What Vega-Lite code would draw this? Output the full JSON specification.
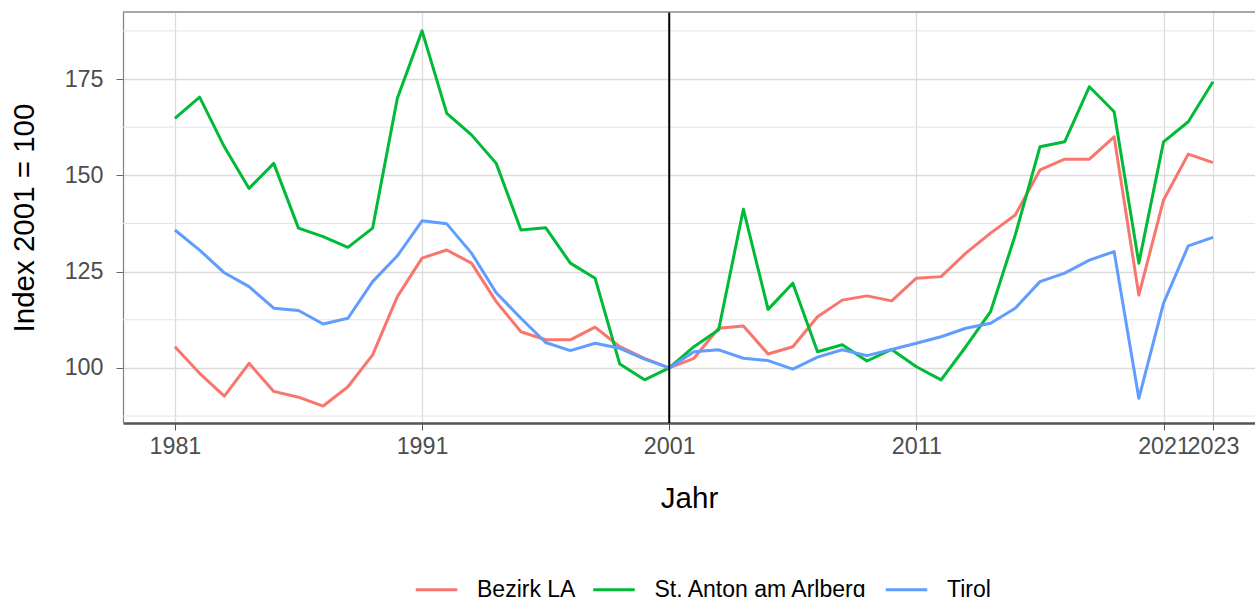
{
  "$schema": "https://vega.github.io/schema/vega-lite/v6.json",
  "width": 1132,
  "height": 411,
  "autosize": {"type": "none"},
  "padding": {"left": 123, "top": 12, "right": 0, "bottom": 174},
  "background": "white",
  "config": {
    "view": {"stroke": null},
    "font": "Liberation Sans",
    "legend": {
      "orient": "none",
      "legendX": 291,
      "legendY": 555,
      "direction": "horizontal",
      "symbolType": "stroke",
      "symbolSize": 1722,
      "symbolStrokeWidth": 3.2,
      "labelFontSize": 23,
      "labelColor": "#000000",
      "labelLimit": 0,
      "labelOffset": 18,
      "columnPadding": 10.5,
      "padding": 0,
      "titlePadding": 0
    }
  },
  "datasets": {
    "lines": [
      {"Jahr": 1981, "Region": "Bezirk LA", "Index": 105.5},
      {"Jahr": 1982, "Region": "Bezirk LA", "Index": 98.6},
      {"Jahr": 1983, "Region": "Bezirk LA", "Index": 92.7},
      {"Jahr": 1984, "Region": "Bezirk LA", "Index": 101.2},
      {"Jahr": 1985, "Region": "Bezirk LA", "Index": 93.9},
      {"Jahr": 1986, "Region": "Bezirk LA", "Index": 92.4},
      {"Jahr": 1987, "Region": "Bezirk LA", "Index": 90.1},
      {"Jahr": 1988, "Region": "Bezirk LA", "Index": 95.1},
      {"Jahr": 1989, "Region": "Bezirk LA", "Index": 103.4},
      {"Jahr": 1990, "Region": "Bezirk LA", "Index": 118.5},
      {"Jahr": 1991, "Region": "Bezirk LA", "Index": 128.5},
      {"Jahr": 1992, "Region": "Bezirk LA", "Index": 130.6},
      {"Jahr": 1993, "Region": "Bezirk LA", "Index": 127.2},
      {"Jahr": 1994, "Region": "Bezirk LA", "Index": 117.2},
      {"Jahr": 1995, "Region": "Bezirk LA", "Index": 109.4},
      {"Jahr": 1996, "Region": "Bezirk LA", "Index": 107.3},
      {"Jahr": 1997, "Region": "Bezirk LA", "Index": 107.3},
      {"Jahr": 1998, "Region": "Bezirk LA", "Index": 110.6},
      {"Jahr": 1999, "Region": "Bezirk LA", "Index": 105.5},
      {"Jahr": 2000, "Region": "Bezirk LA", "Index": 102.5},
      {"Jahr": 2001, "Region": "Bezirk LA", "Index": 100.0},
      {"Jahr": 2002, "Region": "Bezirk LA", "Index": 102.5},
      {"Jahr": 2003, "Region": "Bezirk LA", "Index": 110.3},
      {"Jahr": 2004, "Region": "Bezirk LA", "Index": 110.9},
      {"Jahr": 2005, "Region": "Bezirk LA", "Index": 103.6},
      {"Jahr": 2006, "Region": "Bezirk LA", "Index": 105.5},
      {"Jahr": 2007, "Region": "Bezirk LA", "Index": 113.3},
      {"Jahr": 2008, "Region": "Bezirk LA", "Index": 117.6},
      {"Jahr": 2009, "Region": "Bezirk LA", "Index": 118.7},
      {"Jahr": 2010, "Region": "Bezirk LA", "Index": 117.4},
      {"Jahr": 2011, "Region": "Bezirk LA", "Index": 123.3},
      {"Jahr": 2012, "Region": "Bezirk LA", "Index": 123.7},
      {"Jahr": 2013, "Region": "Bezirk LA", "Index": 129.8},
      {"Jahr": 2014, "Region": "Bezirk LA", "Index": 135.0},
      {"Jahr": 2015, "Region": "Bezirk LA", "Index": 139.7},
      {"Jahr": 2016, "Region": "Bezirk LA", "Index": 151.4},
      {"Jahr": 2017, "Region": "Bezirk LA", "Index": 154.2},
      {"Jahr": 2018, "Region": "Bezirk LA", "Index": 154.2},
      {"Jahr": 2019, "Region": "Bezirk LA", "Index": 160.0},
      {"Jahr": 2020, "Region": "Bezirk LA", "Index": 118.9},
      {"Jahr": 2021, "Region": "Bezirk LA", "Index": 143.6},
      {"Jahr": 2022, "Region": "Bezirk LA", "Index": 155.5},
      {"Jahr": 2023, "Region": "Bezirk LA", "Index": 153.3},
      {"Jahr": 1981, "Region": "St. Anton am Arlberg", "Index": 164.8},
      {"Jahr": 1982, "Region": "St. Anton am Arlberg", "Index": 170.3},
      {"Jahr": 1983, "Region": "St. Anton am Arlberg", "Index": 157.4},
      {"Jahr": 1984, "Region": "St. Anton am Arlberg", "Index": 146.6},
      {"Jahr": 1985, "Region": "St. Anton am Arlberg", "Index": 153.1},
      {"Jahr": 1986, "Region": "St. Anton am Arlberg", "Index": 136.3},
      {"Jahr": 1987, "Region": "St. Anton am Arlberg", "Index": 134.1},
      {"Jahr": 1988, "Region": "St. Anton am Arlberg", "Index": 131.3},
      {"Jahr": 1989, "Region": "St. Anton am Arlberg", "Index": 136.3},
      {"Jahr": 1990, "Region": "St. Anton am Arlberg", "Index": 170.0},
      {"Jahr": 1991, "Region": "St. Anton am Arlberg", "Index": 187.5},
      {"Jahr": 1992, "Region": "St. Anton am Arlberg", "Index": 166.1},
      {"Jahr": 1993, "Region": "St. Anton am Arlberg", "Index": 160.5},
      {"Jahr": 1994, "Region": "St. Anton am Arlberg", "Index": 153.1},
      {"Jahr": 1995, "Region": "St. Anton am Arlberg", "Index": 135.8},
      {"Jahr": 1996, "Region": "St. Anton am Arlberg", "Index": 136.4},
      {"Jahr": 1997, "Region": "St. Anton am Arlberg", "Index": 127.2},
      {"Jahr": 1998, "Region": "St. Anton am Arlberg", "Index": 123.3},
      {"Jahr": 1999, "Region": "St. Anton am Arlberg", "Index": 101.0},
      {"Jahr": 2000, "Region": "St. Anton am Arlberg", "Index": 96.9},
      {"Jahr": 2001, "Region": "St. Anton am Arlberg", "Index": 100.0},
      {"Jahr": 2002, "Region": "St. Anton am Arlberg", "Index": 105.5},
      {"Jahr": 2003, "Region": "St. Anton am Arlberg", "Index": 109.9},
      {"Jahr": 2004, "Region": "St. Anton am Arlberg", "Index": 141.2},
      {"Jahr": 2005, "Region": "St. Anton am Arlberg", "Index": 115.2},
      {"Jahr": 2006, "Region": "St. Anton am Arlberg", "Index": 122.0},
      {"Jahr": 2007, "Region": "St. Anton am Arlberg", "Index": 104.2},
      {"Jahr": 2008, "Region": "St. Anton am Arlberg", "Index": 106.0},
      {"Jahr": 2009, "Region": "St. Anton am Arlberg", "Index": 101.8},
      {"Jahr": 2010, "Region": "St. Anton am Arlberg", "Index": 104.8},
      {"Jahr": 2011, "Region": "St. Anton am Arlberg", "Index": 100.3},
      {"Jahr": 2012, "Region": "St. Anton am Arlberg", "Index": 96.9},
      {"Jahr": 2013, "Region": "St. Anton am Arlberg", "Index": 105.5},
      {"Jahr": 2014, "Region": "St. Anton am Arlberg", "Index": 114.6},
      {"Jahr": 2015, "Region": "St. Anton am Arlberg", "Index": 134.5},
      {"Jahr": 2016, "Region": "St. Anton am Arlberg", "Index": 157.4},
      {"Jahr": 2017, "Region": "St. Anton am Arlberg", "Index": 158.7},
      {"Jahr": 2018, "Region": "St. Anton am Arlberg", "Index": 173.0},
      {"Jahr": 2019, "Region": "St. Anton am Arlberg", "Index": 166.5},
      {"Jahr": 2020, "Region": "St. Anton am Arlberg", "Index": 127.2},
      {"Jahr": 2021, "Region": "St. Anton am Arlberg", "Index": 158.7},
      {"Jahr": 2022, "Region": "St. Anton am Arlberg", "Index": 163.9},
      {"Jahr": 2023, "Region": "St. Anton am Arlberg", "Index": 174.3},
      {"Jahr": 1981, "Region": "Tirol", "Index": 135.8},
      {"Jahr": 1982, "Region": "Tirol", "Index": 130.6},
      {"Jahr": 1983, "Region": "Tirol", "Index": 124.7},
      {"Jahr": 1984, "Region": "Tirol", "Index": 121.1},
      {"Jahr": 1985, "Region": "Tirol", "Index": 115.5},
      {"Jahr": 1986, "Region": "Tirol", "Index": 114.9},
      {"Jahr": 1987, "Region": "Tirol", "Index": 111.4},
      {"Jahr": 1988, "Region": "Tirol", "Index": 112.9},
      {"Jahr": 1989, "Region": "Tirol", "Index": 122.4},
      {"Jahr": 1990, "Region": "Tirol", "Index": 129.1},
      {"Jahr": 1991, "Region": "Tirol", "Index": 138.2},
      {"Jahr": 1992, "Region": "Tirol", "Index": 137.4},
      {"Jahr": 1993, "Region": "Tirol", "Index": 129.8},
      {"Jahr": 1994, "Region": "Tirol", "Index": 119.5},
      {"Jahr": 1995, "Region": "Tirol", "Index": 112.9},
      {"Jahr": 1996, "Region": "Tirol", "Index": 106.6},
      {"Jahr": 1997, "Region": "Tirol", "Index": 104.5},
      {"Jahr": 1998, "Region": "Tirol", "Index": 106.4},
      {"Jahr": 1999, "Region": "Tirol", "Index": 105.1},
      {"Jahr": 2000, "Region": "Tirol", "Index": 102.3},
      {"Jahr": 2001, "Region": "Tirol", "Index": 100.0},
      {"Jahr": 2002, "Region": "Tirol", "Index": 104.2},
      {"Jahr": 2003, "Region": "Tirol", "Index": 104.7},
      {"Jahr": 2004, "Region": "Tirol", "Index": 102.5},
      {"Jahr": 2005, "Region": "Tirol", "Index": 101.9},
      {"Jahr": 2006, "Region": "Tirol", "Index": 99.7},
      {"Jahr": 2007, "Region": "Tirol", "Index": 102.8},
      {"Jahr": 2008, "Region": "Tirol", "Index": 104.7},
      {"Jahr": 2009, "Region": "Tirol", "Index": 103.2},
      {"Jahr": 2010, "Region": "Tirol", "Index": 104.8},
      {"Jahr": 2011, "Region": "Tirol", "Index": 106.4},
      {"Jahr": 2012, "Region": "Tirol", "Index": 108.1},
      {"Jahr": 2013, "Region": "Tirol", "Index": 110.3},
      {"Jahr": 2014, "Region": "Tirol", "Index": 111.6},
      {"Jahr": 2015, "Region": "Tirol", "Index": 115.5},
      {"Jahr": 2016, "Region": "Tirol", "Index": 122.4},
      {"Jahr": 2017, "Region": "Tirol", "Index": 124.6},
      {"Jahr": 2018, "Region": "Tirol", "Index": 128.0},
      {"Jahr": 2019, "Region": "Tirol", "Index": 130.2},
      {"Jahr": 2020, "Region": "Tirol", "Index": 92.1},
      {"Jahr": 2021, "Region": "Tirol", "Index": 116.8},
      {"Jahr": 2022, "Region": "Tirol", "Index": 131.7},
      {"Jahr": 2023, "Region": "Tirol", "Index": 133.9}
    ],
    "minorgrid": [
      {"Index": 87.5},
      {"Index": 112.5},
      {"Index": 137.5},
      {"Index": 162.5},
      {"Index": 187.5}
    ],
    "refline": [{"Jahr": 2001}],
    "topborder": [{"Index": 192.4}]
  },
  "layer": [
    {
      "data": {"name": "minorgrid"},
      "mark": {"type": "rule", "color": "#e4e4e4", "strokeWidth": 1},
      "encoding": {
        "y": {
          "field": "Index",
          "type": "quantitative",
          "scale": {"domain": [85.7, 192.4], "nice": false, "zero": false}
        }
      }
    },
    {
      "data": {"name": "lines"},
      "mark": {"type": "line", "strokeWidth": 3, "strokeJoin": "round", "strokeCap": "butt"},
      "encoding": {
        "x": {
          "field": "Jahr",
          "type": "quantitative",
          "scale": {"domain": [1978.9, 2024.7], "nice": false, "zero": false},
          "axis": {
            "values": [1981, 1991, 2001, 2011, 2021, 2023],
            "format": "d",
            "labelOverlap": false,
            "labelFlush": false,
            "grid": true,
            "gridColor": "#dcdcdc",
            "gridWidth": 1.3,
            "domainColor": "#555555",
            "domainWidth": 2.7,
            "tickColor": "#555555",
            "tickWidth": 1,
            "tickSize": 7,
            "labelFont": "Liberation Sans",
            "labelFontSize": 23.3,
            "labelColor": "#4d4d4d",
            "labelPadding": 5,
            "title": "Jahr",
            "titleFont": "Liberation Sans",
            "titleFontSize": 29.5,
            "titleFontWeight": "normal",
            "titleColor": "#000000",
            "titleBaseline": "alphabetic",
            "titleAnchor": "middle",
            "titleY": 84.3
          }
        },
        "y": {
          "field": "Index",
          "type": "quantitative",
          "scale": {"domain": [85.7, 192.4], "nice": false, "zero": false},
          "axis": {
            "values": [100, 125, 150, 175],
            "grid": true,
            "gridColor": "#dcdcdc",
            "gridWidth": 1.3,
            "domainColor": "#808080",
            "domainWidth": 1.2,
            "tickColor": "#666666",
            "tickWidth": 1,
            "tickSize": 7,
            "labelFont": "Liberation Sans",
            "labelFontSize": 23.3,
            "labelColor": "#4d4d4d",
            "labelPadding": 13,
            "title": "Index 2001 = 100",
            "titleFont": "Liberation Sans",
            "titleFontSize": 29.5,
            "titleFontWeight": "normal",
            "titleColor": "#000000",
            "titleAngle": 270,
            "titleBaseline": "alphabetic",
            "titleAlign": "center",
            "titleX": -89.7,
            "titleY": 205.5
          }
        },
        "color": {
          "field": "Region",
          "type": "nominal",
          "scale": {
            "domain": ["Bezirk LA", "St. Anton am Arlberg", "Tirol"],
            "range": ["#F8766D", "#00BA38", "#619CFF"]
          },
          "legend": {"title": null}
        }
      }
    },
    {
      "data": {"name": "refline"},
      "mark": {"type": "rule", "color": "#000000", "strokeWidth": 2},
      "encoding": {
        "x": {
          "field": "Jahr",
          "type": "quantitative",
          "scale": {"domain": [1978.9, 2024.7], "nice": false, "zero": false}
        }
      }
    },
    {
      "data": {"name": "topborder"},
      "mark": {"type": "rule", "color": "#8a8a8a", "strokeWidth": 1.3},
      "encoding": {
        "y": {
          "field": "Index",
          "type": "quantitative",
          "scale": {"domain": [85.7, 192.4], "nice": false, "zero": false}
        }
      }
    }
  ]
}
